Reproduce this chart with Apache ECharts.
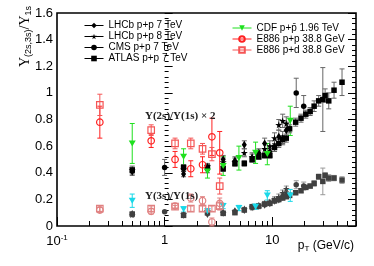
<!DOCTYPE html>
<html><head><meta charset="utf-8">
<script src="https://cdn.jsdelivr.net/npm/echarts@6/dist/echarts.min.js"></script>
<style>html,body{margin:0;padding:0;background:#fff}#c{width:374px;height:266px}</style>
</head><body><div id="c"></div>
<script>
// ---------- data (pT in GeV/c, ratios) ----------
const lhcb7X     = [0.5,1.5,2.5,3.5,4.5,5.5,6.5,7.5,8.5,9.5,10.5,11.5,12.5,13.5];
const lhcb7R2    = [0.41,0.39,0.42,0.50,0.49,0.61,0.51,0.55,0.62,0.56,0.60,0.67,0.66,0.72];
const lhcb7R2Err = [0.03,0.02,0.02,0.03,0.03,0.03,0.03,0.03,0.04,0.04,0.04,0.05,0.05,0.06];
const lhcb7R3    = [0.09,0.085,0.09,0.10,0.11,0.12,0.14,0.15,0.16,0.17,0.19,0.20,0.22,0.24];
const lhcb7R3Err = [0.01,0.01,0.01,0.01,0.01,0.01,0.01,0.01,0.015,0.015,0.02,0.02,0.02,0.02];

const lhcb8X     = [0.5,1.5,2.5,3.5,4.5,5.5,6.5,7.5,8.5,9.5,10.5,11.5,12.5,13.5];
const lhcb8R2    = [0.42,0.43,0.45,0.48,0.48,0.55,0.52,0.54,0.58,0.60,0.66,0.76,0.79,0.77];
const lhcb8R2Err = [0.03,0.02,0.02,0.03,0.03,0.03,0.03,0.03,0.04,0.04,0.04,0.04,0.05,0.05];
const lhcb8R3    = [0.085,0.09,0.11,0.10,0.11,0.13,0.14,0.15,0.17,0.18,0.20,0.22,0.25,0.28];
const lhcb8R3Err = [0.01,0.01,0.01,0.01,0.01,0.01,0.01,0.015,0.015,0.015,0.02,0.02,0.02,0.02];

const cmsX     = [1.0,16.7,19.6];
const cmsR2    = [0.44,1.00,0.90];
const cmsR2Err = [0.06,0.11,0.08];
const cmsR3    = [0.107,0.31,0.30];
const cmsR3Err = [0.005,0.03,0.03];

const atlasX     = [0.5,1.5,2.5,3.5,4.5,5.5,6.5,7.5,8.5,9.5,10.5,11.5,12.5,13.5,14.5,16.5,18.5,20.5,22.5,24.5,27,29.5,31,33.5,37.5,44.5];
const atlasR2    = [0.42,0.44,0.44,0.43,0.47,0.47,0.50,0.52,0.53,0.53,0.59,0.62,0.65,0.66,0.73,0.78,0.81,0.84,0.86,0.90,0.94,0.95,0.98,0.94,1.02,1.08];
const atlasR2Err = [0.02,0.02,0.02,0.02,0.02,0.02,0.02,0.02,0.02,0.02,0.03,0.03,0.03,0.03,0.03,0.03,0.03,0.03,0.03,0.04,0.04,0.24,0.05,0.06,0.06,0.10];
const atlasR3    = [0.09,0.08,0.10,0.095,0.10,0.12,0.145,0.15,0.165,0.17,0.19,0.20,0.21,0.22,0.23,0.25,0.265,0.29,0.30,0.32,0.37,0.335,0.38,0.36,0.36,0.345];
const atlasR3Err = [0.01,0.01,0.01,0.01,0.01,0.01,0.01,0.01,0.01,0.01,0.01,0.01,0.01,0.01,0.015,0.015,0.015,0.015,0.015,0.02,0.02,0.10,0.02,0.025,0.02,0.025];

const cdfX     = [0.5,1.5,2.5,3.5,4.9,7.0,9.0,14.7];
const cdfR2    = [0.62,0.52,0.41,0.45,0.51,0.55,0.54,0.79];
const cdfR2Err = [0.15,0.06,0.05,0.07,0.09,0.08,0.08,0.11];
const cdfR3    = [0.19,0.125,0.11,0.15,0.135,0.145,0.23,0.23];
const cdfR3Err = [0.05,0.02,0.02,0.02,0.02,0.02,0.035,0.045];

const e886ppX     = [0.25,0.75,1.25,1.75,2.25,2.75,3.25];
const e886ppR2    = [0.78,0.64,0.50,0.43,0.46,0.67,0.55];
const e886ppR2Err = [0.12,0.05,0.06,0.06,0.06,0.14,0.16];
const e886ppR3    = [0.12,0.11,0.15,0.21,0.19,0.03,0.17];
const e886ppR3Err = [0.02,0.02,0.02,0.03,0.03,0.03,0.04];

const e886pdX     = [0.25,0.75,1.25,1.75,2.25,2.75,3.25];
const e886pdR2    = [0.91,0.72,0.62,0.62,0.58,0.54,0.30];
const e886pdR2Err = [0.08,0.04,0.04,0.04,0.04,0.05,0.06];
const e886pdR3    = [0.13,0.13,0.145,0.13,0.13,0.13,0.15];
const e886pdR3Err = [0.02,0.02,0.01,0.02,0.02,0.02,0.03];

const xMajorLabels = {0.1: '{b|10}{sup|-1}', 1: '1', 10: '10'};
const xMinorTicks = [0.2,0.3,0.4,0.5,0.6,0.7,0.8,0.9,2,3,4,5,6,7,8,9,20,30,40,50,60];

// ---------- styles ----------
const STAR = 'path://M50,0 L61,35 L98,35 L68,57 L79,91 L50,70 L21,91 L32,57 L2,35 L39,35 Z';
const TRI_DOWN = 'path://M0,0 L10,0 L5,9 Z';
const FONT = 'Liberation Sans, Arial, sans-serif';
const SERIF = '"Liberation Serif", "Times New Roman", serif';

function pts(xs, ys) { return xs.map((x, i) => [x, ys[i]]); }
function errPts(xs, ys, es) { return xs.map((x, i) => [x, ys[i], es[i]]); }

function markerSeries(name, xs, ys, symbol, size, color, empty) {
  return {
    type: 'line', name, data: pts(xs, ys), symbol, symbolSize: size,
    showAllSymbol: true, silent: true, animation: false, z: 5,
    lineStyle: {color, opacity: 0, width: 1},
    itemStyle: {color: empty ? 'rgba(255,255,255,0)' : color, borderColor: color, borderWidth: empty ? 1.2 : 0},
    emphasis: {disabled: true}
  };
}
function errSeries(xs, ys, es, color) {
  return {
    type: 'custom', silent: true, animation: false, z: 3,
    data: errPts(xs, ys, es),
    dimensions: ['x', 'y', 'e'],
    encode: {x: 0, y: 1},
    renderItem: function (params, api) {
      const x = api.value(0), y = api.value(1), e = api.value(2);
      const hi = api.coord([x, y + e]), lo = api.coord([x, Math.max(0, y - e)]);
      const c = 2.5, st = {stroke: color, lineWidth: 1};
      return {type: 'group', children: [
        {type: 'line', shape: {x1: hi[0], y1: hi[1], x2: lo[0], y2: lo[1]}, style: st},
        {type: 'line', shape: {x1: hi[0] - c, y1: hi[1], x2: hi[0] + c, y2: hi[1]}, style: st},
        {type: 'line', shape: {x1: lo[0] - c, y1: lo[1], x2: lo[0] + c, y2: lo[1]}, style: st}
      ]};
    }
  };
}

const BLACK = '#000', GRAY = '#404040', EBLK = '#666', EGRY = '#999';
const GREEN = '#1ee01e', CYAN = '#19d8e8', RED = '#ff2020', RED2 = '#f55555', PINK = '#e08080';

const names = ['LHCb p+p 7 TeV', 'LHCb p+p 8 TeV', 'CMS p+p 7 TeV', 'ATLAS p+p 7 TeV',
               'CDF p+p\u0304 1.96 TeV', 'E886 p+p 38.8 GeV', 'E886 p+d 38.8 GeV'];

const series = [
  errSeries(cdfX, cdfR2, cdfR2Err, GREEN), errSeries(cdfX, cdfR3, cdfR3Err, CYAN),
  errSeries(e886ppX, e886ppR2, e886ppR2Err, RED), errSeries(e886ppX, e886ppR3, e886ppR3Err, PINK),
  errSeries(e886pdX, e886pdR2, e886pdR2Err, RED2), errSeries(e886pdX, e886pdR3, e886pdR3Err, PINK),
  errSeries(lhcb7X, lhcb7R2, lhcb7R2Err, EBLK), errSeries(lhcb7X, lhcb7R3, lhcb7R3Err, EGRY),
  errSeries(lhcb8X, lhcb8R2, lhcb8R2Err, EBLK), errSeries(lhcb8X, lhcb8R3, lhcb8R3Err, EGRY),
  errSeries(cmsX, cmsR2, cmsR2Err, EBLK), errSeries(cmsX, cmsR3, cmsR3Err, EGRY),
  errSeries(atlasX, atlasR2, atlasR2Err, EBLK), errSeries(atlasX, atlasR3, atlasR3Err, EGRY),
  markerSeries(names[0], lhcb7X, lhcb7R2, 'diamond', [5, 8], BLACK),
  markerSeries(names[1], lhcb8X, lhcb8R2, STAR, 7, BLACK),
  markerSeries(names[2], cmsX, cmsR2, 'circle', 5.5, BLACK),
  markerSeries(names[3], atlasX, atlasR2, 'rect', 5.5, BLACK),
  markerSeries(names[4], cdfX, cdfR2, TRI_DOWN, [7, 6], GREEN),
  markerSeries(names[5], e886ppX, e886ppR2, 'circle', 6.5, RED, true),
  markerSeries(names[6], e886pdX, e886pdR2, 'rect', 6.5, RED2, true),
  markerSeries(names[0], lhcb7X, lhcb7R3, 'diamond', [5, 8], GRAY),
  markerSeries(names[1], lhcb8X, lhcb8R3, STAR, 7, GRAY),
  markerSeries(names[2], cmsX, cmsR3, 'circle', 5.5, GRAY),
  markerSeries(names[3], atlasX, atlasR3, 'rect', 5.5, GRAY),
  markerSeries(names[4], cdfX, cdfR3, TRI_DOWN, [7, 6], CYAN),
  markerSeries(names[5], e886ppX, e886ppR3, 'circle', 6.5, PINK, true),
  markerSeries(names[6], e886pdX, e886pdR3, 'rect', 6.5, PINK, true)
];

const legendBase = {
  orient: 'vertical', itemWidth: 19, itemHeight: 7, itemGap: 0, selectedMode: false,
  textStyle: {fontSize: 10, lineHeight: 11, fontFamily: FONT, color: '#000'},
  lineStyle: {opacity: 1, width: 1}
};

const chart = echarts.init(document.getElementById('c'), null, {renderer: 'canvas'});
chart.setOption({
  animation: false,
  backgroundColor: '#fff',
  grid: {left: 57, right: 18, top: 13, bottom: 40, show: true, borderColor: '#000', borderWidth: 1.6,
         containLabel: false, outerBoundsMode: 'none'},
  xAxis: [
    {type: 'log', logBase: 10, min: 0.1, max: 60, position: 'bottom',
     axisLine: {show: false}, splitLine: {show: false},
     axisTick: {inside: true, length: 9, lineStyle: {color: '#000'}},
     axisLabel: {margin: 8, showMaxLabel: false, fontFamily: FONT, fontSize: 13, color: '#000',
       formatter: v => xMajorLabels[v] !== undefined ? xMajorLabels[v] : '',
       rich: {b: {fontSize: 13, fontFamily: FONT, color: '#000'},
              sup: {fontSize: 8, fontFamily: FONT, color: '#000', verticalAlign: 'top', padding: [0, 0, 6, 0]}}}},
    {type: 'value', min: -1, max: Math.log10(60), position: 'bottom', show: true,
     axisLine: {show: false}, splitLine: {show: false}, axisLabel: {show: false},
     axisTick: {inside: true, length: 5, lineStyle: {color: '#000'},
                customValues: xMinorTicks.map(v => Math.log10(v))}}
  ],
  yAxis: [
    {type: 'value', min: 0, max: 1.6, interval: 0.2, position: 'left',
     axisLine: {show: false}, splitLine: {show: false},
     axisTick: {inside: true, length: 8, lineStyle: {color: '#000'}},
     minorTick: {show: true, splitNumber: 5, length: 4, lineStyle: {color: '#000'}},
     axisLabel: {margin: 4, fontFamily: FONT, fontSize: 13, color: '#000'}},
    {type: 'value', min: 0, max: 1.6, interval: 0.2, position: 'right',
     axisLine: {show: false}, splitLine: {show: false},
     axisTick: {inside: true, length: 8, lineStyle: {color: '#000'}},
     minorTick: {show: true, splitNumber: 5, length: 4, lineStyle: {color: '#000'}},
     axisLabel: {show: false}}
  ],
  legend: [
    Object.assign({}, legendBase, {left: 79, top: 15, data: names.slice(0, 4)}),
    Object.assign({}, legendBase, {left: 227, top: 17.5, data: names.slice(4)})
  ],
  graphic: [
    {type: 'text', x: 25, y: 6, rotation: Math.PI / 2, silent: true, z: 100,
     style: {text: '{m|\u03a5}{s|(2s,3s)}{m|/\u03a5}{s|1s}', align: 'right', verticalAlign: 'middle',
       rich: {m: {fontSize: 14, lineHeight: 16, fontFamily: SERIF, fill: '#000', verticalAlign: 'middle'},
              s: {fontSize: 9, lineHeight: 9, fontFamily: FONT, fill: '#000', verticalAlign: 'bottom'}}}},
    {type: 'text', x: 354, y: 246, silent: true, z: 100,
     style: {text: '{m|p}{s|T}{m| (GeV/c)}', align: 'right', verticalAlign: 'middle',
       rich: {m: {fontSize: 12, lineHeight: 14, fontFamily: FONT, fill: '#000', verticalAlign: 'middle'},
              s: {fontSize: 8, lineHeight: 8, fontFamily: FONT, fill: '#000', verticalAlign: 'bottom'}}}},
    {type: 'text', x: 145, y: 111, silent: true, z: 100,
     style: {text: '\u03a5(2s)/\u03a5(1s) \u00d7 2', font: 'bold 11px ' + SERIF, fill: '#222'}},
    {type: 'text', x: 145, y: 191, silent: true, z: 100,
     style: {text: '\u03a5(3s)/\u03a5(1s)', font: 'bold 11px ' + SERIF, fill: '#222'}}
  ],
  series
});
</script></body></html>
